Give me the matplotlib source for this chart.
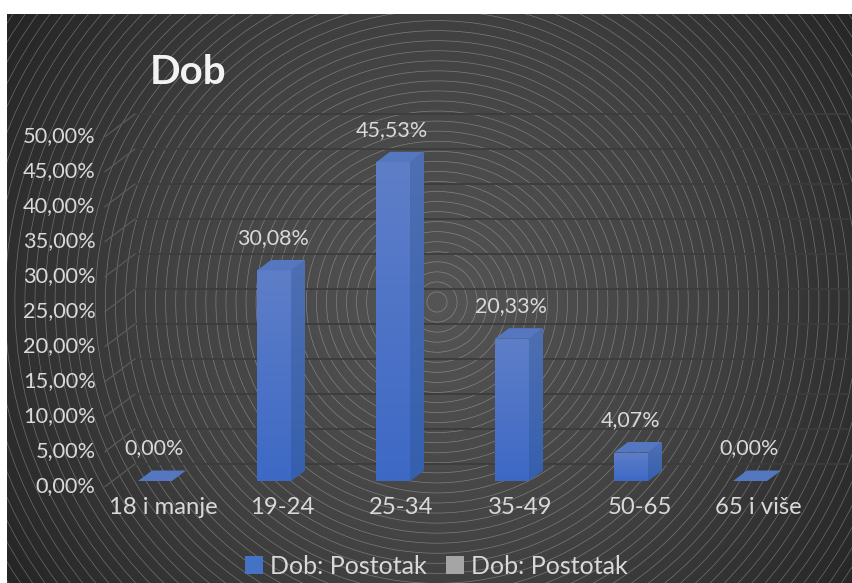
import numpy as np
import matplotlib
matplotlib.use("Agg")
import matplotlib.pyplot as plt
from matplotlib.patches import Polygon, Patch, Circle
from matplotlib.transforms import ScaledTranslation
from matplotlib.colors import LinearSegmentedColormap

categories = ["18 i manje", "19-24", "25-34", "35-49", "50-65", "65 i više"]
values = [0.00, 30.08, 45.53, 20.33, 4.07, 0.00]
value_labels = ["0,00%", "30,08%", "45,53%", "20,33%", "4,07%", "0,00%"]
y_ticks = [0, 5, 10, 15, 20, 25, 30, 35, 40, 45, 50]
y_tick_labels = ["0,00%", "5,00%", "10,00%", "15,00%", "20,00%", "25,00%",
                 "30,00%", "35,00%", "40,00%", "45,00%", "50,00%"]
series_names = ["Dob: Postotak", "Dob: Postotak"]

W, H = 853, 583
plt.rcParams["font.family"] = ["Lato", "DejaVu Sans"]
TXT = "#d9d9d9"
fig = plt.figure(figsize=(W / 100, H / 100), dpi=100, facecolor="white")

def px_axes(x0, ytop, x1, ybot):
    return fig.add_axes([x0 / W, 1 - ybot / H, (x1 - x0) / W, (ybot - ytop) / H])

# chart background: radial gradient with concentric rings
bg = px_axes(7, 14, W, H)
bg.set_xlim(7, W); bg.set_ylim(H, 14); bg.axis("off")
cx, cy = 437, 302
xx, yy = np.meshgrid(np.arange(7, W), np.arange(14, H))
rr = np.hypot(xx - cx, yy - cy)
shade = np.clip(rr / 530, 0, 1)
cmap_bg = LinearSegmentedColormap.from_list("bg", ["#555555", "#424242", "#232323"])
bg.imshow(shade, extent=(7, W, H, 14), cmap=cmap_bg, vmin=0, vmax=1, aspect="auto")
for k in range(1, 60):
    bg.add_patch(Circle((cx, cy), 10.05 * k, fill=False, ec="#cfcfcf", lw=0.5, alpha=0.4))
bg.set_xlim(7, W); bg.set_ylim(H, 14)

# plot axes: front plane
ax = px_axes(95.5, 131, 809.5, 481)
ax.patch.set_alpha(0)
for s in ax.spines.values():
    s.set_visible(False)

DX, DY = 14 / 119, 1.5      # bar depth in data units
HW = 17 / 119               # bar half width
WX0, WX1 = -0.168, 5.82     # back wall extent
WDY = 17 / 7                # back wall shift

for v in y_ticks:
    ax.plot([WX0, WX1], [v + WDY] * 2, color="#3c3c3c", lw=1.3, clip_on=False, zorder=1)
    ax.plot([-0.42, WX0], [v - 0.8, v + WDY], color="#5a5a5a", lw=0.9, clip_on=False, zorder=1)

def grad(c_top, c_bot):
    return LinearSegmentedColormap.from_list("g", [c_top, c_bot])

cm_front = grad("#5f7ec8", "#3d69c5")
cm_side = grad("#4f6fb2", "#3560ae")
G = np.linspace(0, 1, 128).reshape(-1, 1)
x_pos = np.arange(len(categories))
bars = ax.bar(x_pos, values, width=2 * HW, color="#4472c4", zorder=3, clip_on=False)
for x, v, b in zip(x_pos, values, bars):
    if v > 0:
        im = ax.imshow(G, extent=(x - HW, x + HW, 0, v), cmap=cm_front, aspect="auto", zorder=3.1)
        im.set_clip_path(b)
        side = Polygon([(x + HW, 0), (x + HW + DX, DY), (x + HW + DX, v + DY), (x + HW, v)],
                       closed=True, fc="#4468b0", ec="none", zorder=3, clip_on=False)
        ax.add_patch(side)
        im2 = ax.imshow(G, extent=(x + HW, x + HW + DX, 0, v + DY), cmap=cm_side, aspect="auto", zorder=3.1)
        im2.set_clip_path(side)
    ax.add_patch(Polygon([(x - HW, v), (x + HW, v), (x + HW + DX, v + DY), (x - HW + DX, v + DY)],
                         closed=True, fc="#5477c0", ec="none", zorder=3.2, clip_on=False))

for x, v, t in zip(x_pos, values, value_labels):
    ax.annotate(t, (x, v), xytext=(-0.5, 23.5), textcoords="offset points", ha="center", va="center",
                color=TXT, fontsize=15.5, zorder=5)

ax.set_xlim(-0.5, 5.5)
ax.set_ylim(0, 50)
ax.set_xticks(x_pos, categories)
ax.set_yticks(y_ticks, y_tick_labels)
ax.tick_params(axis="both", length=0, colors=TXT, labelsize=15.7)
ax.tick_params(axis="x", pad=11.5, labelsize=17.2)
ax.tick_params(axis="y", pad=0)
for l in ax.get_yticklabels():
    l.set_transform(l.get_transform() + ScaledTranslation(0, -3 / 100, fig.dpi_scale_trans))
for l in ax.get_xticklabels():
    l.set_transform(l.get_transform() + ScaledTranslation(8.5 / 100, 0, fig.dpi_scale_trans))

fig.text(150 / W, 1 - 72 / H, "Dob", color="#f2f2f2", fontsize=29, fontweight="bold", va="center", ha="left")

handles = [Patch(fc="#4472c4", ec="none"), Patch(fc="#a5a5a5", ec="none")]
fig.legend(handles, series_names, ncol=2, frameon=False, loc="center",
           bbox_to_anchor=(436.5 / W, 1 - 566 / H), fontsize=18.0, labelcolor=TXT,
           handlelength=0.72, handleheight=0.72, handletextpad=0.3, columnspacing=0.75,
           borderpad=0, borderaxespad=0)

fig.savefig("out.png", dpi=100)
